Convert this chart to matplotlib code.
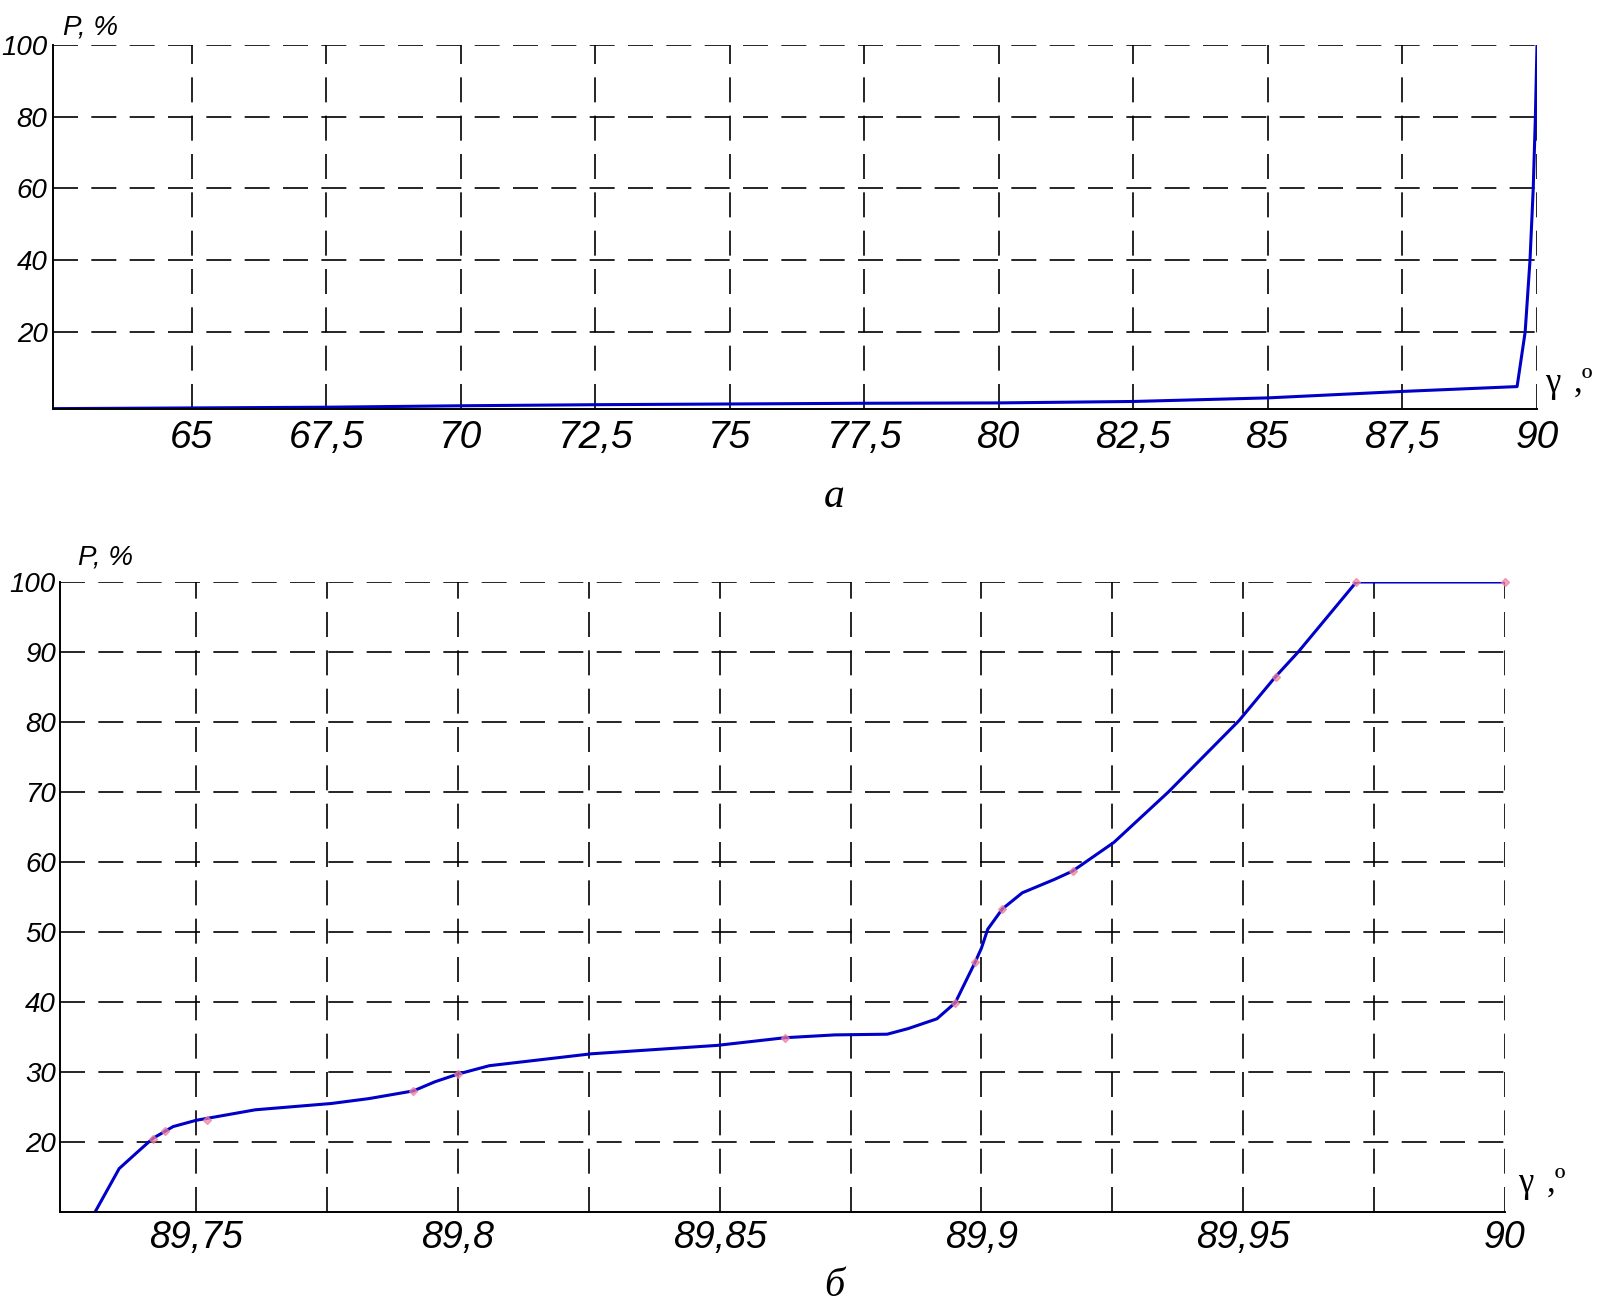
import matplotlib
matplotlib.use('Agg')
import matplotlib.pyplot as plt

# --- данные ---
# а) общий вид
gamma_a = [62.42, 65, 67.5, 70, 72.5, 75, 77.5, 80, 82.5, 85, 87.5,
           89.63, 89.78, 89.87, 89.93, 89.97, 90.0]
P_a = [-1.4, -1.2, -1.0, -0.6, -0.3, -0.1, 0.1, 0.2, 0.6, 1.6, 3.4,
       4.75, 20, 40, 60, 80, 100]
xticks_a = [65, 67.5, 70, 72.5, 75, 77.5, 80, 82.5, 85, 87.5, 90]
xlabels_a = ['65', '67,5', '70', '72,5', '75', '77,5', '80', '82,5', '85', '87,5', '90']
yticks_a = [20, 40, 60, 80, 100]

# б) участок 89,72...90
gamma_b = [89.7307, 89.7353, 89.7387, 89.7417, 89.7456, 89.75, 89.7613, 89.7758,
           89.783, 89.7915, 89.7956, 89.8, 89.806, 89.8255, 89.8495, 89.8625,
           89.872, 89.882, 89.886, 89.8915, 89.895, 89.8988, 89.9, 89.9012,
           89.904, 89.9078, 89.9139, 89.9174, 89.9253, 89.9357, 89.9492, 89.9562,
           89.9605, 89.9716, 90.0]
P_b = [10.0, 16.2, 18.5, 20.5, 22.2, 23.1, 24.6, 25.5,
       26.2, 27.3, 28.6, 29.7, 30.9, 32.6, 33.8, 34.9,
       35.3, 35.4, 36.2, 37.6, 39.9, 45.7, 47.7, 50.4,
       53.3, 55.6, 57.5, 58.7, 62.8, 70.0, 80.2, 86.5,
       90.0, 100.0, 100.0]
mark_x = [89.7417, 89.744, 89.752, 89.7915, 89.8, 89.8625, 89.895, 89.8988,
          89.904, 89.9174, 89.9562, 89.9716, 90.0]
mark_y = [20.5, 21.6, 23.2, 27.3, 29.7, 34.9, 39.9, 45.7, 53.3, 58.7, 86.5, 100, 100]
xticks_b = [89.75, 89.775, 89.8, 89.825, 89.85, 89.875, 89.9, 89.925, 89.95, 89.975, 90]
xlabels_b = ['89,75', '', '89,8', '', '89,85', '', '89,9', '', '89,95', '', '90']
yticks_b = [20, 30, 40, 50, 60, 70, 80, 90, 100]

tfont = 'Liberation Sans'
sfont = 'Liberation Serif'

line_c = '#0000c8'
W, H = 1614, 1308
fig = plt.figure(figsize=(W / 100, H / 100), dpi=100)


def frac(x0, y0, x1, y1):
    return [x0 / W, 1 - y1 / H, (x1 - x0) / W, (y1 - y0) / H]


def style(ax, xticks, xlabels, yticks, xsize, ysize, xpad, ypad):
    ax.set_xticks(xticks)
    ax.set_xticklabels(xlabels)
    ax.set_yticks(yticks)
    ax.set_yticklabels([str(v) for v in yticks])
    ax.tick_params(length=0)
    ax.tick_params(axis='x', labelsize=xsize, pad=xpad)
    ax.tick_params(axis='y', labelsize=ysize, pad=ypad)
    for lab in ax.get_xticklabels() + ax.get_yticklabels():
        lab.set_family(tfont)
        lab.set_style('italic')
    ax.grid(True, color='black', lw=1.2, linestyle=(0, (15, 8)))
    ax.spines['top'].set_visible(False)
    ax.spines['right'].set_visible(False)
    for s in ('left', 'bottom'):
        ax.spines[s].set_linewidth(1.4)
        ax.spines[s].set_zorder(5)
    ax.set_axisbelow(True)


# --- а ---
ax1 = fig.add_axes(frac(53, 45, 1537, 409))
ax1.plot(gamma_a, P_a, color=line_c, lw=2.2, zorder=4)
ax1.set_xlim(62.42, 90)
ax1.set_ylim(-1.5, 100)
style(ax1, xticks_a, xlabels_a, yticks_a, 28, 20, 8, 4)

# --- б ---
ax2 = fig.add_axes(frac(60, 582, 1505, 1212))
ax2.plot(gamma_b, P_b, color=line_c, lw=2.2, zorder=4)
ax2.plot(mark_x, mark_y, linestyle='none', marker='D', ms=4,
         color='#ee7fa0', alpha=0.7, zorder=5, clip_on=False)
ax2.set_xlim(89.724, 90)
ax2.set_ylim(10, 100)
style(ax2, xticks_b, xlabels_b, yticks_b, 27, 20, 6, 3)

# подписи осей
fig.text(63 / W, 1 - 34 / H, 'P, %', family=tfont, style='italic', fontsize=20)
fig.text(78 / W, 1 - 564 / H, 'P, %', family=tfont, style='italic', fontsize=20)
fig.text(1545 / W, 1 - 392 / H, 'γ', family=sfont, fontsize=25)
fig.text(1574 / W, 1 - 392 / H, ',º', family=sfont, fontsize=25)
fig.text(1518 / W, 1 - 1192 / H, 'γ', family=sfont, fontsize=25)
fig.text(1547 / W, 1 - 1192 / H, ',º', family=sfont, fontsize=25)

fig.text(834 / W, 1 - 497 / H, 'а', family=sfont, style='italic',
         fontsize=30, ha='center', va='center')
fig.text(834 / W, 1 - 1305 / H, 'б', family=sfont, style='italic',
         fontsize=29, ha='center', va='bottom')

fig.savefig('out.png', dpi=100, facecolor='white')
